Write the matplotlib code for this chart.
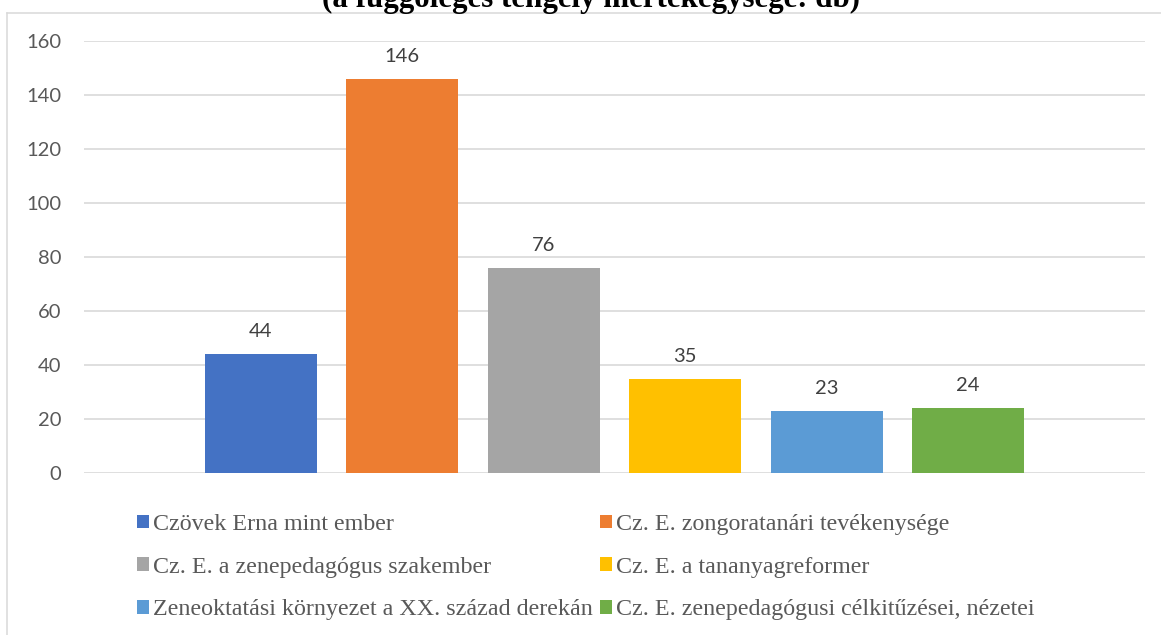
import numpy as np
import matplotlib.pyplot as plt
from matplotlib.patches import Patch
from matplotlib.lines import Line2D

# data
categories = ['Czövek Erna mint ember',
              'Cz. E. zongoratanári tevékenysége',
              'Cz. E. a zenepedagógus szakember',
              'Cz. E. a tananyagreformer',
              'Zeneoktatási környezet a XX. század derekán',
              'Cz. E. zenepedagógusi célkitűzései, nézetei']
values = [44, 146, 76, 35, 23, 24]
colors = ['#4472C4', '#ED7D31', '#A5A5A5', '#FFC000', '#5B9BD5', '#70AD47']
yticks = [0, 20, 40, 60, 80, 100, 120, 140, 160]
title = '(a függőleges tengely mértékegysége: db)'

W, H = 1161, 635
fig = plt.figure(figsize=(W/100, H/100), dpi=100)
ax = fig.add_axes([84/W, 1-473/H, (1145-84)/W, (473-41)/H])

x = np.arange(len(values))
ax.bar(x, values, width=0.79, color=colors, zorder=3)
for xi, v in zip(x, values):
    ax.annotate(str(v), (xi, v), xytext=(0, 12.2), textcoords='offset points',
                ha='center', va='baseline', fontsize=14.5, family='Lato', color='#404040')

ax.set_xlim(-1.25, len(values)+0.25)
ax.set_ylim(0, 160)
ax.set_yticks(yticks)
ax.set_xticks([])
ax.tick_params(axis='y', length=0, pad=16.5, labelsize=14.5, labelcolor='#595959')
for lab in ax.get_yticklabels():
    lab.set_family('Lato')
ax.grid(axis='y', color='#d9d9d9', linewidth=1.2, zorder=0)
for s in ax.spines.values():
    s.set_visible(False)

# legend, filled row by row
order = [0, 2, 4, 1, 3, 5]
handles = [Patch(facecolor=colors[i], edgecolor='none') for i in order]
labels = [categories[i] for i in order]
leg = fig.legend(handles, labels, ncol=2, loc='upper left',
                 bbox_to_anchor=(137/W, 1-514/H), frameon=False,
                 prop={'family': 'Liberation Serif', 'size': 17.3},
                 handlelength=0.5, handleheight=0.5, handletextpad=0.17,
                 columnspacing=0.3, labelspacing=0.9, borderpad=0, borderaxespad=0)
for t in leg.get_texts():
    t.set_color('#595959')

# chart border (cropped) and clipped title
fig.add_artist(Line2D([7/W, 1], [1-13/H, 1-13/H], color='#d9d9d9', linewidth=1.1))
fig.add_artist(Line2D([7/W, 7/W], [0, 1-13/H], color='#d9d9d9', linewidth=1.1))
fig.text(591/W, 1-6.5/H, title, ha='center', va='baseline',
         family='Liberation Serif', fontweight='bold', fontsize=22.3, color='black')

fig.savefig('out.png', dpi=100)
